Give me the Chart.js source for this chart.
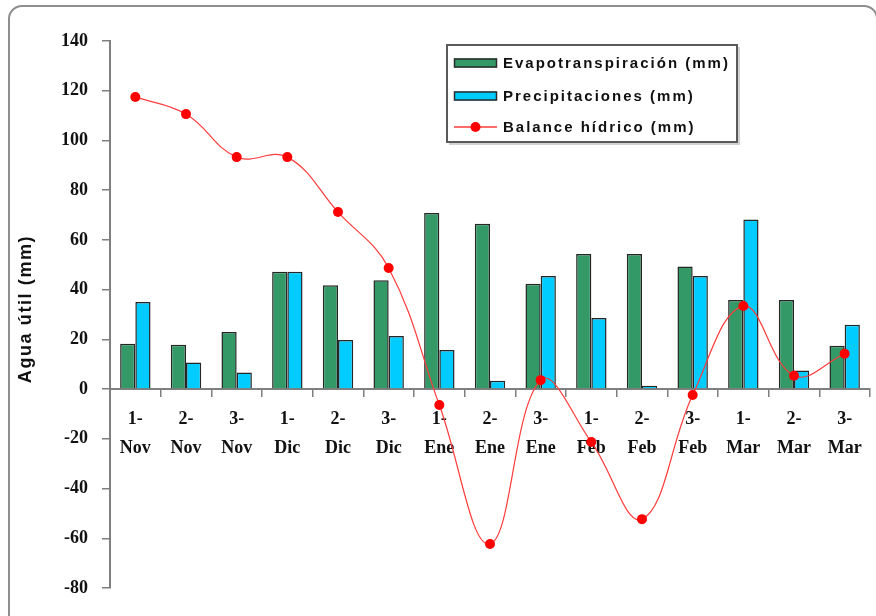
<!DOCTYPE html>
<html>
<head>
<meta charset="utf-8">
<script src="https://cdn.jsdelivr.net/npm/chart.js@4"></script>
<style>
  html, body { margin: 0; padding: 0; background: #fff; }
  #wrap { position: relative; width: 876px; height: 616px; overflow: hidden; background: #fff; }
  #frame { position: absolute; left: 8px; top: 5px; width: 870px; height: 640px;
           border: 2px solid #8e8e8e; border-radius: 14px; box-sizing: border-box; }
  canvas { position: absolute; left: 0; top: 0; }
</style>
</head>
<body>
<div id="wrap">
  <div id="frame"></div>
  <canvas id="chart" width="876" height="616"></canvas>
</div>
<script>
// Decades of each month (x-axis categories, two lines per label)
const categories = [
  ['1-', 'Nov'], ['2-', 'Nov'], ['3-', 'Nov'],
  ['1-', 'Dic'], ['2-', 'Dic'], ['3-', 'Dic'],
  ['1-', 'Ene'], ['2-', 'Ene'], ['3-', 'Ene'],
  ['1-', 'Feb'], ['2-', 'Feb'], ['3-', 'Feb'],
  ['1-', 'Mar'], ['2-', 'Mar'], ['3-', 'Mar']
];

// Series values in mm
const evapotranspiracion = [18.2, 17.8, 23, 47.2, 41.8, 43.8, 70.8, 66.5, 42.4, 54.3, 54.3, 49.3, 35.8, 35.8, 17.4];
const precipitaciones    = [35, 10.7, 6.7, 47.2, 19.7, 21.4, 15.7, 3.4, 45.5, 28.6, 1.3, 45.5, 68.2, 7.5, 25.9];
const balanceHidrico     = [117.5, 110.6, 93.3, 93.3, 71.2, 48.7, -6.4, -62.3, 3.6, -21.3, -52.3, -2.4, 33.4, 5.4, 14.2];

// Value axis range
const yMin = -80;
const yMax = 140;
const yStep = 20;

const seriesLabels = ['Evapotranspiración (mm)', 'Precipitaciones (mm)', 'Balance hídrico (mm)'];
const yTitle = 'Agua útil (mm)';

const SERIF = '"Liberation Serif", "Times New Roman", serif';
const SANS = '"Liberation Sans", Arial, sans-serif';
const AXIS_GRAY = '#7f7f7f';

// Rotated y-axis title with spaced lettering
const yTitlePlugin = {
  id: 'yTitle',
  afterDraw(chart) {
    const ctx = chart.ctx;
    ctx.save();
    ctx.translate(26, 309);
    ctx.rotate(-Math.PI / 2);
    ctx.font = 'bold 18px ' + SANS;
    ctx.letterSpacing = '1.6px';
    ctx.fillStyle = '#111';
    ctx.textAlign = 'center';
    ctx.textBaseline = 'middle';
    ctx.fillText(yTitle, 0, 0);
    ctx.restore();
  }
};

// Boxed legend inside the plot area, listed in series order
const boxLegendPlugin = {
  id: 'boxLegend',
  afterDraw(chart) {
    const ctx = chart.ctx;
    const rows = [63, 96, 127];
    const items = seriesLabels.map(l => chart.data.datasets.find(d => d.label === l));
    ctx.save();
    ctx.fillStyle = 'rgba(0,0,0,0.18)';
    ctx.fillRect(449, 47, 291, 98);
    ctx.fillStyle = '#fff';
    ctx.fillRect(447, 45, 290, 97);
    ctx.strokeStyle = '#5a5a5a';
    ctx.lineWidth = 2;
    ctx.strokeRect(447, 45, 290, 97);

    ctx.font = 'bold 15px ' + SANS;
    ctx.letterSpacing = '2px';
    ctx.textBaseline = 'middle';
    ctx.textAlign = 'left';

    items.forEach((d, i) => {
      const y = rows[i];
      if (d.type === 'line') {
        ctx.strokeStyle = d.borderColor;
        ctx.lineWidth = 1.3;
        ctx.beginPath();
        ctx.moveTo(454, y);
        ctx.lineTo(497, y);
        ctx.stroke();
        ctx.fillStyle = d.pointBackgroundColor;
        ctx.beginPath();
        ctx.arc(475.5, y, 5, 0, Math.PI * 2);
        ctx.fill();
      } else {
        ctx.fillStyle = d.backgroundColor;
        ctx.fillRect(454, y - 4.5, 43, 9);
        ctx.strokeStyle = '#2a2a2a';
        ctx.lineWidth = 1.5;
        ctx.strokeRect(454.5, y - 4, 42, 8);
      }
      ctx.fillStyle = '#111';
      ctx.fillText(d.label, 503, y + 0.5);
    });
    ctx.restore();
  }
};

new Chart(document.getElementById('chart'), {
  type: 'bar',
  data: {
    labels: categories,
    datasets: [
      {
        type: 'line',
        label: seriesLabels[2],
        data: balanceHidrico,
        borderColor: '#ff3b3b',
        borderWidth: 1.2,
        pointBackgroundColor: '#ff0000',
        pointBorderColor: '#ff0000',
        pointBorderWidth: 0,
        pointRadius: 5,
        tension: 0.4,
        fill: false,
        order: 0
      },
      {
        label: seriesLabels[0],
        data: evapotranspiracion,
        backgroundColor: '#339966',
        borderColor: '#262626',
        borderWidth: 1.5,
        categoryPercentage: 0.6,
        barPercentage: 1.0,
        order: 1
      },
      {
        label: seriesLabels[1],
        data: precipitaciones,
        backgroundColor: '#00ccff',
        borderColor: '#262626',
        borderWidth: 1.5,
        categoryPercentage: 0.6,
        barPercentage: 1.0,
        order: 1
      }
    ]
  },
  options: {
    responsive: false,
    animation: false,
    devicePixelRatio: 1,
    layout: { padding: { top: 41, right: 6, bottom: 28, left: 0 } },
    plugins: {
      legend: { display: false },
      tooltip: { enabled: false }
    },
    scales: {
      x: {
        position: { y: 0 },
        offset: true,
        grid: {
          offset: true,
          drawOnChartArea: false,
          drawTicks: true,
          tickLength: 7,
          color: AXIS_GRAY,
          lineWidth: 1.5
        },
        border: { display: true, color: AXIS_GRAY, width: 2 },
        ticks: {
          autoSkip: false,
          maxRotation: 0,
          minRotation: 0,
          padding: 9,
          color: '#111',
          font: { family: SERIF, weight: 'bold', size: 18, lineHeight: 1.6 }
        }
      },
      y: {
        min: yMin,
        max: yMax,
        afterFit(scale) { scale.width = 110; },
        grid: {
          drawOnChartArea: false,
          drawTicks: true,
          tickLength: 8,
          color: AXIS_GRAY,
          lineWidth: 1.5
        },
        border: { display: true, color: AXIS_GRAY, width: 2 },
        ticks: {
          stepSize: yStep,
          padding: 14,
          color: '#111',
          font: { family: SERIF, weight: 'bold', size: 18 }
        }
      }
    }
  },
  plugins: [yTitlePlugin, boxLegendPlugin]
});
</script>
</body>
</html>
